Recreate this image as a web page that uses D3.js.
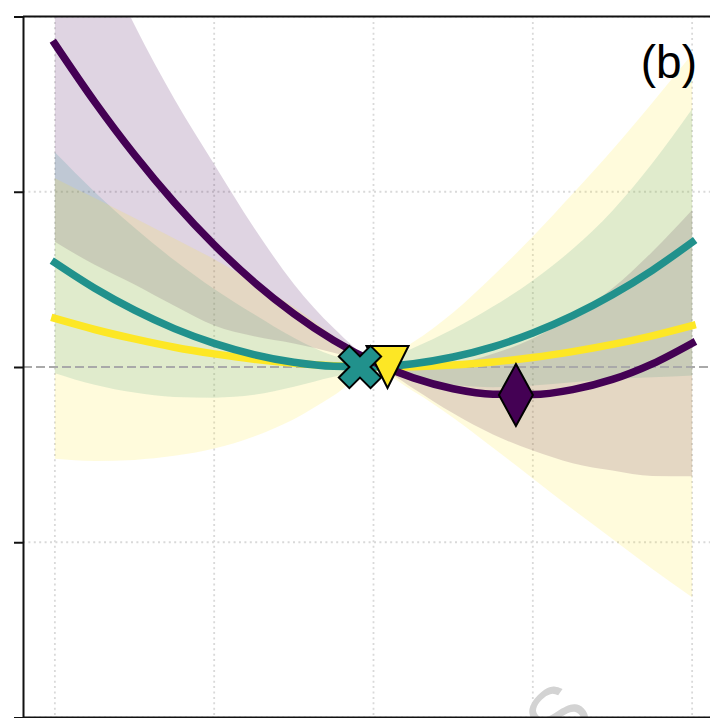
<!DOCTYPE html>
<html>
<head>
<meta charset="utf-8">
<script src="https://cdn.jsdelivr.net/npm/d3@7"></script>
<style>
  html, body { margin: 0; padding: 0; background: #ffffff; }
  svg { display: block; }
</style>
</head>
<body>
<div id="chart"></div>
<script>
// Sample positions along the x axis
const xs = [-2, -1.75, -1.5, -1.25, -1, -0.75, -0.5, -0.25, 0, 0.25, 0.5, 0.75, 1, 1.25, 1.5, 1.75, 2];

// Fitted curves (mean) and half-width of their uncertainty bands
const purpleMean   = [1.844, 1.513, 1.211, 0.939, 0.697, 0.485, 0.304, 0.152, 0.030, -0.062, -0.124, -0.155, -0.157, -0.129, -0.071, 0.018, 0.136];
const purpleSpread = [1.13, 0.93, 0.74, 0.59, 0.46, 0.31, 0.17, 0.07, 0.01, 0.06, 0.14, 0.23, 0.32, 0.42, 0.52, 0.64, 0.76];

const tealMean   = [0.595, 0.449, 0.324, 0.219, 0.135, 0.071, 0.027, 0.004, 0.001, 0.019, 0.057, 0.115, 0.194, 0.293, 0.412, 0.552, 0.712];
const tealSpread = [0.63, 0.55, 0.47, 0.39, 0.31, 0.23, 0.14, 0.06, 0.02, 0.09, 0.16, 0.23, 0.30, 0.38, 0.48, 0.61, 0.76];

const yellowMean   = [0.277, 0.214, 0.160, 0.113, 0.075, 0.044, 0.022, 0.007, 0.000, 0.002, 0.011, 0.029, 0.054, 0.088, 0.129, 0.178, 0.236];
const yellowSpread = [0.80, 0.75, 0.69, 0.62, 0.54, 0.44, 0.32, 0.17, 0.02, 0.14, 0.30, 0.49, 0.69, 0.90, 1.11, 1.33, 1.55];

// Minimum of each curve
const minimumX = [0.894, -0.085, 0.088];
const minimumY = [-0.16, 0.0, 0.0];

// Axis ticks
const xTicks = [-2, -1, 0, 1, 2];
const yTicks = [-2, -1, 0, 1, 2];

const panelLabel = "(b)";

const W = 710, H = 718;
const colors = { purple: "#440154", teal: "#21918c", yellow: "#fde725" };

const series = [
  { key: "purple", mean: purpleMean, spread: purpleSpread, color: colors.purple, alpha: 0.17, marker: "diamond" },
  { key: "teal",   mean: tealMean,   spread: tealSpread,   color: colors.teal,   alpha: 0.17, marker: "x" },
  { key: "yellow", mean: yellowMean, spread: yellowSpread, color: colors.yellow, alpha: 0.16, marker: "triangle" }
];
series.forEach((s, i) => {
  s.points = xs.map((x, j) => ({ x, y: s.mean[j], lo: s.mean[j] - s.spread[j], hi: s.mean[j] + s.spread[j] }));
  s.mx = minimumX[i];
  s.my = minimumY[i];
});

const x = d3.scaleLinear().domain([-2.2, 2.2]).range([23, 724]);
const y = d3.scaleLinear().domain([-2, 2]).range([717.5, 16.5]);

const svg = d3.select("#chart").append("svg")
  .attr("width", W).attr("height", H)
  .style("font-family", "'Liberation Sans', Arial, sans-serif");

svg.append("rect").attr("width", W).attr("height", H).attr("fill", "#fff");

svg.append("clipPath").attr("id", "plot-clip")
  .append("rect")
  .attr("x", x(-2.2)).attr("y", y(2))
  .attr("width", x(2.2) - x(-2.2)).attr("height", y(-2) - y(2));

const plot = svg.append("g").attr("clip-path", "url(#plot-clip)");

// Dotted grid
plot.append("g").selectAll("line.vgrid").data(xTicks).join("line")
  .attr("x1", d => x(d)).attr("x2", d => x(d))
  .attr("y1", y(2)).attr("y2", y(-2))
  .attr("stroke", "#d9d9d9").attr("stroke-width", 1.8).attr("stroke-dasharray", "2,3.4");
plot.append("g").selectAll("line.hgrid").data(yTicks.filter(d => d !== 0)).join("line")
  .attr("x1", x(-2.2)).attr("x2", x(2.2))
  .attr("y1", d => y(d)).attr("y2", d => y(d))
  .attr("stroke", "#d9d9d9").attr("stroke-width", 1.8).attr("stroke-dasharray", "2,3.4");

// Uncertainty bands
const area = d3.area()
  .x(d => x(d.x)).y0(d => y(d.lo)).y1(d => y(d.hi))
  .curve(d3.curveMonotoneX);
plot.append("g").selectAll("path.band").data(series).join("path")
  .attr("d", s => area(s.points))
  .attr("fill", s => s.color).attr("fill-opacity", s => s.alpha)
  .attr("stroke", "none");

// Zero reference line
plot.append("line")
  .attr("x1", x(-2.2)).attr("x2", x(2.2))
  .attr("y1", y(0)).attr("y2", y(0))
  .attr("stroke", "#a9a9a9").attr("stroke-width", 2.2).attr("stroke-dasharray", "9,4");

// Fitted curves
const line = d3.line().x(d => x(d.x)).y(d => y(d.y)).curve(d3.curveMonotoneX);
const drawOrder = [series[2], series[1], series[0]];
plot.append("g").selectAll("path.curve").data(drawOrder).join("path")
  .attr("d", s => line(s.points))
  .attr("fill", "none").attr("stroke", s => s.color)
  .attr("stroke-width", 7.5).attr("stroke-linecap", "square");

// Markers at the minima
const markerPath = {
  diamond: () => "M0,-31L17,0L0,31L-17,0Z",
  triangle: () => "M-21,-21L21,-21L0,21Z",
  x: () => d3.symbol(d3.symbolCross, 1120)()
};
const markerOrder = [series[0], series[2], series[1]];
svg.append("g").selectAll("path.marker").data(markerOrder).join("path")
  .attr("transform", s => `translate(${x(s.mx)},${y(s.my)})` + (s.marker === "x" ? " rotate(45)" : ""))
  .attr("d", s => markerPath[s.marker]())
  .attr("fill", s => s.color)
  .attr("stroke", "#000").attr("stroke-width", 2).attr("stroke-linejoin", "miter");

// Faint rotated lettering near the bottom edge
svg.append("text")
  .attr("transform", `translate(558,716) rotate(-45)`)
  .attr("text-anchor", "middle").attr("dominant-baseline", "central")
  .attr("font-size", 82).attr("fill", "#d3d3d3")
  .text("S");

// Axes
const yAxis = d3.axisLeft(y).tickValues(yTicks).tickSize(9).tickSizeOuter(0).tickFormat("");
const gy = svg.append("g").attr("transform", `translate(${x(-2.2)},0)`).call(yAxis);
gy.selectAll("path, line").attr("stroke", "#111").attr("stroke-width", 2);

svg.append("line")
  .attr("x1", x(-2.2)).attr("x2", W)
  .attr("y1", y(2)).attr("y2", y(2))
  .attr("stroke", "#111").attr("stroke-width", 2);
svg.append("line")
  .attr("x1", x(-2.2)).attr("x2", W)
  .attr("y1", y(-2)).attr("y2", y(-2))
  .attr("stroke", "#111").attr("stroke-width", 2);

// Panel label
svg.append("text")
  .attr("x", 697).attr("y", 78)
  .attr("text-anchor", "end")
  .attr("font-size", 46).attr("fill", "#000")
  .text(panelLabel);
</script>
</body>
</html>
